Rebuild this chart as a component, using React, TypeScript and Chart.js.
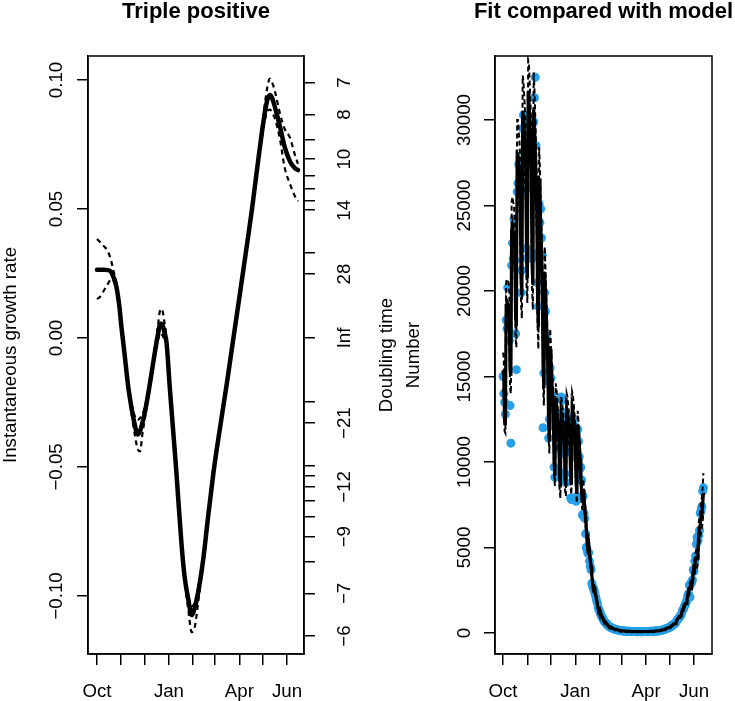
import React, { useEffect, useRef } from 'react';
import { Chart, registerables } from 'chart.js';

Chart.register(...registerables);

const FONT = '"Liberation Sans", Arial, Helvetica, sans-serif';
const TICK_FONT = `18.7px ${FONT}`;
const TITLE_FONT = `bold 22px ${FONT}`;
const BLUE = 'rgb(38,160,232)';

// ---- shared x axis: days since 1 Oct 2020, ticks at month starts ----
const monthTickDays = [0, 31, 61, 92, 123, 151, 182, 212, 243];
const monthTickLabels = ['Oct', '', '', 'Jan', '', '', 'Apr', '', 'Jun'];

// ---- left panel: instantaneous growth rate ----
const growthDays = [0, 4, 9, 14, 18, 21, 25, 29, 31, 35, 40, 44, 48, 52, 55, 58, 61, 67, 74, 78, 81, 83, 86, 89, 93, 97, 101, 104, 108, 112, 117, 121, 125, 130, 136, 142, 149, 153, 166, 174, 183, 191, 198, 202, 206, 211, 215, 218, 221, 224, 228, 234, 240, 247, 253, 257];
const growthRate = [0.0264, 0.0264, 0.0264, 0.0263, 0.0256, 0.0236, 0.0196, 0.0112, 0.0050, -0.0055,
  -0.0190, -0.0268, -0.0332, -0.0374, -0.0362, -0.0330, -0.0292, -0.0190, -0.0055, 0.0015,
  0.0055, 0.0055, 0.0025, -0.0020, -0.0189, -0.0344, -0.0499, -0.0628, -0.0796, -0.0925,
  -0.1018, -0.1074, -0.1045, -0.0975, -0.0855, -0.0695, -0.0520, -0.0434, -0.0177, -0.0010,
  0.0177, 0.0345, 0.0495, 0.0590, 0.0685, 0.0800, 0.0880, 0.0925, 0.0942, 0.0930, 0.0890,
  0.0819, 0.0741, 0.0683, 0.0658, 0.0651];
const growthUpper = [0.0384, 0.0372, 0.0355, 0.0336, 0.0300, 0.0262, 0.0210, 0.0122, 0.0060, -0.0045,
  -0.0178, -0.0252, -0.0300, -0.0318, -0.0310, -0.0295, -0.0270, -0.0175, -0.0040, 0.0050,
  0.0110, 0.0112, 0.0065, 0.0000, -0.0180, -0.0335, -0.0490, -0.0620, -0.0788, -0.0915,
  -0.1000, -0.1040, -0.1025, -0.0960, -0.0845, -0.0688, -0.0514, -0.0428, -0.0172, -0.0005,
  0.0183, 0.0353, 0.0505, 0.0602, 0.0700, 0.0822, 0.0915, 0.0975, 0.1005, 0.0990, 0.0950,
  0.0870, 0.0810, 0.0775, 0.0710, 0.0675];
const growthLower = [0.0151, 0.0160, 0.0185, 0.0210, 0.0228, 0.0222, 0.0185, 0.0100, 0.0040, -0.0065,
  -0.0205, -0.0290, -0.0370, -0.0430, -0.0440, -0.0375, -0.0315, -0.0205, -0.0070, -0.0010,
  0.0020, 0.0015, -0.0005, -0.0035, -0.0198, -0.0353, -0.0510, -0.0640, -0.0808, -0.0940,
  -0.1060, -0.1140, -0.1120, -0.1010, -0.0868, -0.0705, -0.0527, -0.0440, -0.0182, -0.0015,
  0.0171, 0.0337, 0.0485, 0.0578, 0.0670, 0.0780, 0.0850, 0.0880, 0.0885, 0.0875, 0.0845,
  0.0770, 0.0660, 0.0595, 0.0550, 0.0530];
const growthTicks = [-0.1, -0.05, 0, 0.05, 0.1];
const growthTickLabels = ['\u22120.10', '\u22120.05', '0.00', '0.05', '0.10'];
const doublingTickTimes = [-6, -7, -8, -9, -10, -11, -12, -13, -14, -21, -28, Infinity, 28, 21, 14, 13, 12, 11, 10, 9, 8, 7];
const doublingTickLabels = ['\u22126', '\u22127', '', '\u22129', '', '', '\u221212', '', '', '\u221221', '', 'Inf', '28', '', '14', '', '', '', '10', '', '8', '7'];

// ---- right panel: daily numbers (from 1 Oct 2020) and model fit ----
const caseCounts = [
  15000, 14000, 13500, 12800, 18300, 17800, 20200, 17800, 17100, 13300,
  11100, 21500, 22800, 21900, 24200, 21800, 17500, 15400, 25800, 26300,
  27400, 25600, 27400, 19900, 21200, 29500, 30300, 28100, 27500, 25900,
  22500, 21900, 30100, 29800, 28600, 27800, 26200, 21900, 22200, 29900,
  31300, 32500, 28500, 25400, 20500, 19100, 25100, 24000, 24800, 23100,
  22100, 12000, 15200, 19900, 18800, 17300, 16200, 14700, 11400, 12500,
  15500, 14900, 13900, 13200, 12100, 9700, 9100, 12800, 12300, 11800,
  11500, 10800, 9400, 9100, 13800, 13600, 12900, 11300, 10500, 9300,
  8800, 12400, 12100, 11700, 11200, 10600, 7900, 7800, 12600, 12300,
  11600, 10900, 10300, 7700, 8000, 11900, 11200, 10300, 9600, 9700,
  8950, 6900, 8000, 7000, 6700, 5800, 5000, 4850, 4660, 4700,
  4200, 3900, 3700, 2900, 2700, 2600, 2500, 2300, 2100, 1900,
  1750, 1500, 1350, 1280, 1150, 1000, 920, 850, 740, 650,
  620, 560, 540, 470, 420, 380, 340, 330, 310, 290,
  260, 235, 215, 200, 205, 190, 180, 165, 150, 140,
  130, 135, 128, 120, 118, 110, 105, 100, 108, 104,
  98, 97, 92, 88, 85, 90, 86, 84, 85, 80,
  78, 76, 83, 82, 80, 80, 79, 77, 76, 84,
  85, 86, 85, 83, 82, 84, 93, 95, 96, 98,
  96, 95, 99, 110, 115, 117, 122, 121, 124, 131,
  152, 160, 168, 180, 186, 197, 208, 243, 262, 276,
  298, 311, 330, 352, 410, 440, 466, 500, 525, 565,
  610, 720, 775, 830, 900, 950, 1020, 1100, 1280, 1370,
  1450, 1580, 1660, 1800, 1930, 2180, 2300, 2800, 2100, 2900,
  2950, 3100, 3700, 3600, 4200, 4500, 5200, 5600, 5400, 5700,
  6000, 7000, 7200, 7400, 8300, 8500];
const fitted = [
  15370, 15000, 12400, 12160, 19140, 19380, 19250, 19190, 18700, 15360,
  15050, 23550, 23830, 23540, 23320, 22500, 18480, 17940, 28070, 28040,
  27390, 26820, 25500, 20640, 19760, 30510, 30210, 29370, 28510, 27000,
  21760, 20750, 31670, 31120, 30030, 28940, 27100, 21600, 20370, 30620,
  29750, 28270, 26710, 24700, 19360, 17860, 26560, 25310, 23760, 22150,
  20200, 15600, 14290, 21110, 19950, 18590, 17280, 15800, 12240, 11250,
  16590, 15730, 14850, 13890, 12800, 10000, 9200, 13690, 13340, 12760,
  12190, 11400, 9040, 8510, 12880, 12650, 12210, 11870, 11200, 8960,
  8590, 13110, 12880, 12430, 11980, 11400, 9120, 8660, 13220, 13000,
  12430, 11870, 11100, 8800, 8130, 12180, 11630, 11000, 10180, 9200,
  8184, 7728, 8374, 7875, 7313, 6798, 6100, 5301, 4876, 5194,
  4725, 4223, 3914, 3400, 2883, 2576, 2650, 2415, 2163, 1957,
  1700, 1442, 1288, 1346, 1197, 1051, 948, 830, 707, 626,
  657, 588, 525, 484, 430, 363, 331, 350, 326, 288,
  268, 240, 205, 193, 212, 200, 180, 170, 155, 135,
  127, 140, 132, 124, 121, 114, 103, 99, 111, 107,
  102, 100, 94, 86, 83, 93, 89, 87, 87, 83,
  76, 75, 86, 84, 82, 82, 81, 75, 75, 87,
  87, 87, 87, 85, 81, 82, 96, 98, 98, 100,
  98, 93, 96, 114, 118, 119, 125, 125, 121, 128,
  157, 166, 173, 185, 192, 192, 202, 251, 269, 284,
  306, 320, 321, 341, 424, 452, 479, 515, 540, 549,
  593, 742, 798, 855, 927, 980, 986, 1058, 1325, 1418,
  1504, 1627, 1710, 1721, 1840, 2268, 2415, 2524, 2699, 2800,
  2790, 2944, 3604, 3780, 3966, 4223, 4400, 4371, 4646, 5724,
  6090, 6386, 6798, 7000, 7500, 8200];
const fittedUpper = [
  16400, 16100, 13300, 13000, 20500, 20700, 20600, 20500, 20000, 16400,
  16100, 25200, 25500, 25200, 25000, 24100, 19800, 19200, 30000, 30000,
  29300, 28700, 27300, 22100, 21100, 32600, 32300, 31400, 30500, 28900,
  23300, 22200, 33500, 33300, 32100, 31000, 29000, 23100, 21800, 32800,
  31800, 30200, 28600, 26400, 20700, 19100, 28400, 27100, 25400, 23700,
  21600, 16700, 15300, 22600, 21300, 19900, 18500, 16900, 13100, 12000,
  17800, 16800, 15900, 14900, 13700, 10700, 9800, 14600, 14300, 13700,
  13000, 12200, 9700, 9100, 13800, 13500, 13100, 12700, 12000, 9600,
  9200, 14000, 13800, 13300, 12800, 12200, 9800, 9300, 14100, 13900,
  13300, 12700, 11900, 9400, 8700, 13000, 12400, 11800, 10900, 9800,
  8800, 8300, 9000, 8400, 7800, 7300, 6500, 5700, 5200, 5600,
  5100, 4500, 4200, 3600, 3100, 2800, 2800, 2600, 2300, 2100,
  1800, 1540, 1380, 1440, 1280, 1120, 1010, 890, 760, 670,
  700, 630, 560, 520, 460, 390, 350, 370, 350, 310,
  290, 260, 220, 210, 230, 210, 190, 180, 170, 140,
  140, 150, 140, 130, 130, 120, 110, 106, 119, 114,
  109, 107, 101, 92, 89, 100, 95, 93, 93, 89,
  81, 80, 92, 90, 88, 88, 87, 80, 80, 93,
  93, 93, 93, 91, 87, 88, 103, 105, 105, 107,
  105, 100, 103, 122, 126, 127, 134, 134, 129, 137,
  168, 178, 185, 198, 205, 205, 216, 269, 288, 304,
  327, 342, 343, 365, 454, 484, 513, 551, 578, 587,
  635, 800, 860, 920, 1000, 1060, 1070, 1150, 1440, 1540,
  1640, 1770, 1860, 1880, 2010, 2480, 2650, 2770, 2970, 3080,
  3080, 3250, 3990, 4190, 4400, 4700, 4900, 4880, 5200, 6420,
  6850, 7200, 7680, 7930, 8520, 9350];
const fittedLower = [
  14300, 14000, 11800, 11700, 17800, 18000, 17900, 17800, 17400, 14300,
  14000, 21900, 22200, 21900, 21700, 20900, 17200, 16700, 26100, 26100,
  25500, 24900, 23700, 19200, 18400, 28400, 28100, 27300, 26500, 25100,
  20200, 19300, 29500, 28900, 27900, 26900, 25200, 20100, 18900, 28500,
  27700, 26300, 24800, 23000, 18000, 16600, 24700, 23500, 22100, 20600,
  18800, 14500, 13300, 19600, 18600, 17300, 16100, 14700, 11400, 10500,
  15400, 14600, 13800, 12900, 11900, 9300, 8600, 12700, 12400, 11900,
  11300, 10600, 8400, 7900, 12000, 11800, 11400, 11000, 10400, 8300,
  8000, 12200, 12000, 11600, 11100, 10600, 8500, 8100, 12300, 12100,
  11600, 11000, 10300, 8200, 7600, 11300, 10800, 10200, 9500, 8600,
  7600, 7200, 7800, 7300, 6800, 6300, 5700, 4900, 4500, 4800,
  4400, 3900, 3600, 3200, 2700, 2400, 2500, 2250, 2010, 1820,
  1580, 1340, 1200, 1250, 1110, 980, 880, 770, 660, 580,
  610, 550, 490, 450, 400, 340, 310, 330, 300, 270,
  250, 220, 190, 180, 200, 190, 170, 160, 144, 126,
  118, 130, 123, 115, 113, 106, 96, 92, 103, 100,
  95, 93, 87, 80, 77, 86, 83, 81, 81, 77,
  71, 70, 80, 78, 76, 76, 75, 70, 70, 81,
  81, 81, 81, 79, 75, 76, 89, 91, 91, 93,
  91, 86, 89, 106, 110, 111, 116, 116, 113, 119,
  146, 154, 161, 172, 179, 179, 188, 233, 250, 264,
  285, 298, 299, 317, 394, 420, 445, 479, 502, 511,
  551, 680, 730, 780, 850, 890, 900, 960, 1200, 1280,
  1360, 1470, 1540, 1550, 1650, 2030, 2160, 2250, 2400, 2490,
  2480, 2610, 3190, 3340, 3500, 3720, 3870, 3840, 4070, 5010,
  5320, 5570, 5920, 6090, 6510, 7100];
const countTicks = [0, 5000, 10000, 15000, 20000, 25000, 30000];
const countTickLabels = ['0', '5000', '10000', '15000', '20000', '25000', '30000'];

// ---- helpers ----
type LabelSet = { scaleId: string; values: number[]; labels: string[]; baselineX: number };
type Decor = { id: string; title: string; yLabels: LabelSet[]; axisTitles: { text: string; x: number }[] };

function rotText(ctx: CanvasRenderingContext2D, text: string, x: number, y: number) {
  ctx.save();
  ctx.translate(x, y);
  ctx.rotate(-Math.PI / 2);
  ctx.textAlign = 'center';
  ctx.textBaseline = 'alphabetic';
  ctx.fillText(text, 0, 0);
  ctx.restore();
}

function decorPlugin(d: Decor) {
  return {
    id: d.id,
    afterDraw(chart: any) {
      const ctx: CanvasRenderingContext2D = chart.ctx;
      const a = chart.chartArea;
      ctx.save();
      ctx.strokeStyle = '#000';
      ctx.lineWidth = 1.5;
      ctx.strokeRect(a.left, a.top, a.right - a.left, a.bottom - a.top);
      ctx.fillStyle = '#000';
      ctx.font = TITLE_FONT;
      ctx.textAlign = 'center';
      ctx.textBaseline = 'alphabetic';
      ctx.fillText(d.title, (a.left + a.right) / 2, 17.5);
      ctx.font = TICK_FONT;
      const xs = chart.scales.x;
      monthTickDays.forEach((day, i) => {
        const lbl = monthTickLabels[i];
        if (lbl) ctx.fillText(lbl, xs.getPixelForValue(day), 696.5);
      });
      d.yLabels.forEach((set) => {
        const s = chart.scales[set.scaleId];
        set.values.forEach((v, i) => {
          const lbl = set.labels[i];
          if (lbl) rotText(ctx, lbl, set.baselineX, s.getPixelForValue(v));
        });
      });
      const cy = (a.top + a.bottom) / 2;
      d.axisTitles.forEach((t) => rotText(ctx, t.text, t.x, cy));
      ctx.restore();
    },
  };
}

const setTicks = (values: number[]) => (scale: any) => {
  scale.ticks = values.map((v) => ({ value: v }));
};

const axisLook = {
  border: { display: true, color: '#000', width: 1.5 },
  grid: { drawOnChartArea: false, drawTicks: true, tickLength: 11, tickColor: '#000', tickWidth: 1.5, color: '#000', lineWidth: 1.5 },
  ticks: { display: false, autoSkip: false },
};

const commonOptions = {
  responsive: false,
  animation: false,
  devicePixelRatio: 1,
  events: [],
  plugins: { legend: { display: false }, tooltip: { enabled: false }, title: { display: false } },
};

function leftConfig(): any {
  const gMin = -0.1225;
  const gMax = 0.1093;
  const doublingValues = doublingTickTimes.map((t) => (Number.isFinite(t) ? Math.LN2 / t : 0));
  const pts = (vals: number[]) => growthDays.map((d, i) => ({ x: d, y: vals[i] }));
  return {
    type: 'line',
    data: {
      datasets: [
        { data: pts(growthRate), borderColor: '#000', borderWidth: 4.5, pointRadius: 0, cubicInterpolationMode: 'monotone', borderCapStyle: 'round', borderJoinStyle: 'round', yAxisID: 'y', order: 2 },
        { data: pts(growthUpper), borderColor: '#000', borderWidth: 2.2, borderDash: [5, 4], pointRadius: 0, cubicInterpolationMode: 'monotone', yAxisID: 'y', order: 1 },
        { data: pts(growthLower), borderColor: '#000', borderWidth: 2.2, borderDash: [5, 4], pointRadius: 0, cubicInterpolationMode: 'monotone', yAxisID: 'y', order: 1 },
      ],
    },
    options: {
      ...commonOptions,
      layout: { padding: { top: 56, left: 0, right: 0, bottom: 0 } },
      scales: {
        x: { type: 'linear', position: 'bottom', min: -11.5, max: 264.7, afterBuildTicks: setTicks(monthTickDays), afterFit: (s: any) => { s.height = 47; }, ...axisLook },
        y: { type: 'linear', position: 'left', min: gMin, max: gMax, afterBuildTicks: setTicks(growthTicks), afterFit: (s: any) => { s.width = 88; }, ...axisLook },
        y2: { type: 'linear', position: 'right', min: gMin, max: gMax, afterBuildTicks: setTicks(doublingValues), afterFit: (s: any) => { s.width = 116; }, ...axisLook },
      },
    },
    plugins: [
      decorPlugin({
        id: 'decorLeft',
        title: 'Triple positive',
        yLabels: [
          { scaleId: 'y', values: growthTicks, labels: growthTickLabels, baselineX: 61.5 },
          { scaleId: 'y2', values: doublingValues, labels: doublingTickLabels, baselineX: 349.5 },
        ],
        axisTitles: [
          { text: 'Instantaneous growth rate', x: 16 },
          { text: 'Doubling time', x: 391.5 },
        ],
      }),
    ],
  };
}

function rightConfig(): any {
  const pts = (vals: number[]) => vals.map((v, i) => ({ x: i, y: v }));
  return {
    type: 'line',
    data: {
      datasets: [
        { data: pts(fittedUpper), borderColor: '#000', borderWidth: 2, borderDash: [5, 3], pointRadius: 0, tension: 0, order: 1 },
        { data: pts(fittedLower), borderColor: '#000', borderWidth: 2, borderDash: [5, 3], pointRadius: 0, tension: 0, order: 1 },
        { data: pts(fitted), borderColor: '#000', borderWidth: 3.2, pointRadius: 0, tension: 0, order: 2 },
        { data: pts(caseCounts), showLine: false, pointRadius: 4.5, pointBackgroundColor: BLUE, pointBorderWidth: 0, borderColor: BLUE, order: 3 },
      ],
    },
    options: {
      ...commonOptions,
      layout: { padding: { top: 56, left: 0, right: 23, bottom: 0 } },
      scales: {
        x: { type: 'linear', position: 'bottom', min: -10.2, max: 265.9, afterBuildTicks: setTicks(monthTickDays), afterFit: (s: any) => { s.height = 47; }, ...axisLook },
        y: { type: 'linear', position: 'left', min: -1228, max: 33743, afterBuildTicks: setTicks(countTicks), afterFit: (s: any) => { s.width = 128; }, ...axisLook },
      },
    },
    plugins: [
      decorPlugin({
        id: 'decorRight',
        title: 'Fit compared with model',
        yLabels: [{ scaleId: 'y', values: countTicks, labels: countTickLabels, baselineX: 102.5 }],
        axisTitles: [{ text: 'Number', x: 51.5 }],
      }),
    ],
  };
}

export default function App() {
  const leftRef = useRef<HTMLCanvasElement>(null);
  const rightRef = useRef<HTMLCanvasElement>(null);
  useEffect(() => {
    const left = new Chart(leftRef.current as HTMLCanvasElement, leftConfig());
    const right = new Chart(rightRef.current as HTMLCanvasElement, rightConfig());
    return () => {
      left.destroy();
      right.destroy();
    };
  }, []);
  return (
    <div style={{ position: 'absolute', left: 0, top: 0, width: 735, height: 701, background: '#fff', overflow: 'hidden' }}>
      <canvas ref={leftRef} width={420} height={701} style={{ position: 'absolute', left: 0, top: 0, width: 420, height: 701 }} />
      <canvas ref={rightRef} width={368} height={701} style={{ position: 'absolute', left: 367, top: 0, width: 368, height: 701 }} />
    </div>
  );
}
